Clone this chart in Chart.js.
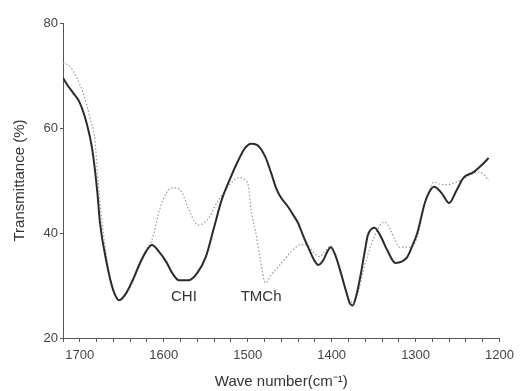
<!DOCTYPE html>
<html>
<head>
<meta charset="utf-8">
<script src="https://cdn.jsdelivr.net/npm/chart.js@4/dist/chart.umd.min.js"></script>
<style>
html,body{margin:0;padding:0;background:#fff;}
#wrap{width:520px;height:391px;}
</style>
</head>
<body>
<div id="wrap"><canvas id="c" width="520" height="391"></canvas></div>
<script>
// CHI (solid) spectrum
const chiWave = [1720,1714,1708,1700,1692,1685,1679,1676,1668,1660,1653,1645,1637,1629,1621,1614,1606,1597,1590,1582,1570,1560,1550,1540,1531,1520,1511,1503,1496,1489,1479,1472,1466,1461,1452,1446,1440,1434,1428,1420,1416,1410,1405,1401,1395,1389,1383,1378,1375,1370,1365,1360,1357,1349,1342,1334,1324,1316,1310,1304,1298,1289,1284,1278,1269,1260,1251,1243,1231,1219,1213];
const chiT    = [69.5,68.0,66.7,64.8,61,55.8,47.6,42,34.3,29,27.2,28.5,31,34,36.5,37.7,36.5,34.5,32.4,31,31,32.4,35.4,41.1,46.3,50.7,53.9,56.2,57,56.8,54.5,51.4,48.5,46.9,45,43.5,41.9,39.5,37.3,34.6,33.9,34.8,36.5,37.3,35.5,32.4,29,26.5,26.2,28.5,32.4,37,39.5,41,39.5,36.8,34.3,34.6,35.4,37.5,40,45.7,47.7,48.8,47.6,45.7,48.2,50.5,51.6,53.3,54.3];
// TMCh (dotted) spectrum
const tmchWave = [1720,1712,1704,1696,1688,1682,1678,1672,1665,1658,1651,1643,1635,1627,1620,1614,1605,1597,1590,1585,1578,1570,1562,1558,1552,1546,1537,1528,1520,1511,1503,1499,1496,1491,1485,1479,1472,1464,1456,1448,1436,1428,1420,1414,1408,1401,1395,1389,1383,1378,1374,1368,1362,1357,1350,1343,1337,1330,1324,1319,1306,1298,1290,1284,1278,1271,1266,1254,1239,1224,1218,1213];
const tmchT    = [72.4,71.8,69.7,66.7,62,57.7,49.5,40,32.5,28.5,27.3,28.8,31.5,34.5,37,38.7,44.4,47.6,48.6,48.6,47.6,44.4,41.9,41.5,42,42.9,45.7,47.8,49.5,50.5,50.1,48.8,44.4,40.6,35,30.5,32,33.5,35,36.5,37.8,37.5,36,35.5,36.5,37.5,35.5,32.5,29,27,26.8,29,33,35.8,39,41.3,42.1,40.6,38.5,37.3,37.3,39.2,45,48,49.7,49.3,49.2,49.5,50.7,51.6,51,50];
const xTicks = [1700,1600,1500,1400,1300,1200];
const yTicks = [20,40,60,80];
const labels = [{text:'CHI', x:1576, y:27.8},{text:'TMCh', x:1484, y:27.8}];

const toPts = (xs, ys) => xs.map((x,i)=>({x:x, y:ys[i]}));
const FONT = '"Liberation Sans", Arial, sans-serif';

const labelPlugin = {
  id:'peakLabels',
  afterDatasetsDraw(chart){
    const {ctx, scales:{x, y}} = chart;
    ctx.save();
    ctx.font = '15px ' + FONT;
    ctx.fillStyle = '#333';
    ctx.textAlign = 'center';
    ctx.textBaseline = 'middle';
    labels.forEach(l => ctx.fillText(l.text, x.getPixelForValue(l.x), y.getPixelForValue(l.y)));
    ctx.restore();
  }
};

new Chart(document.getElementById('c'), {
  type:'line',
  data:{
    datasets:[
      {label:'CHI', data:toPts(chiWave, chiT), borderColor:'#2b2b2b', borderWidth:2, pointRadius:0, cubicInterpolationMode:'monotone', fill:false},
      {label:'TMCh', data:toPts(tmchWave, tmchT), borderColor:'#9a9a9a', borderWidth:1.2, borderDash:[1.5,2], pointRadius:0, cubicInterpolationMode:'monotone', fill:false}
    ]
  },
  options:{
    responsive:false,
    animation:false,
    layout:{padding:{top:23, right:14, left:11, bottom:0}},
    plugins:{legend:{display:false}, tooltip:{enabled:false}},
    scales:{
      x:{
        type:'linear', reverse:true, min:1200, max:1720,
        border:{display:true, color:'#555', width:1},
        grid:{display:true, drawOnChartArea:false, drawTicks:true, tickLength:4, tickColor:'#555'},
        ticks:{stepSize:20, autoSkip:false, maxRotation:0, minRotation:0, color:'#444', padding:6,
          font:{family:FONT, size:13},
          callback:(v)=> xTicks.includes(v) ? String(v) : ''},
        title:{display:true, text:'Wave number(cm\u207B\u00B9)', color:'#333', padding:{top:0,bottom:0},
          font:{family:FONT, size:15}},
        afterFit(s){ s.height = 53; }
      },
      y:{
        min:20, max:80,
        border:{display:true, color:'#555', width:1},
        grid:{display:true, drawOnChartArea:false, drawTicks:true, tickLength:3, tickColor:'#555'},
        ticks:{stepSize:20, color:'#444', padding:2,
          font:{family:FONT, size:13},
          callback:(v)=> yTicks.includes(v) ? String(v) : ''},
        title:{display:true, text:'Transmittance (%)', color:'#333', padding:{top:0,bottom:0},
          font:{family:FONT, size:15}},
        afterFit(s){ s.width = 52; }
      }
    }
  },
  plugins:[labelPlugin]
});
</script>
</body>
</html>
